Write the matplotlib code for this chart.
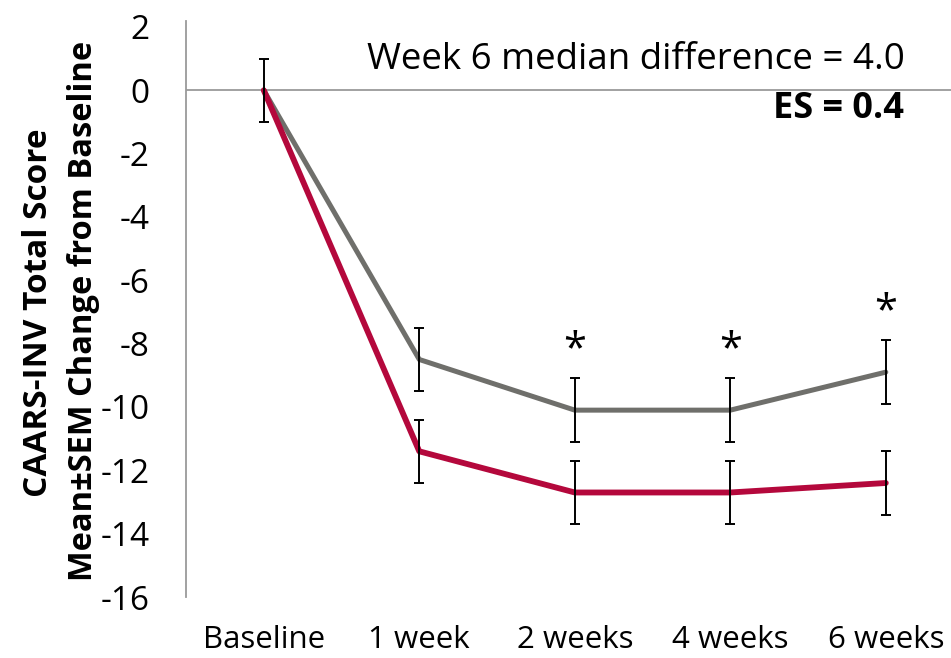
import numpy as np
from matplotlib import pyplot as plt

plt.rcParams['font.family'] = ['Open Sans', 'DejaVu Sans']

timepoints = ['Baseline', '1 week', '2 weeks', '4 weeks', '6 weeks']
placebo_mean = [0, -8.5, -10.1, -10.1, -8.9]
placebo_sem = [1.0, 1.0, 1.0, 1.0, 1.0]
active_mean = [0, -11.4, -12.7, -12.7, -12.4]
active_sem = [1.0, 1.0, 1.0, 1.0, 1.0]
signif = [False, False, True, True, True]
yticks = [2, 0, -2, -4, -6, -8, -10, -12, -14, -16]

gray = '#6f6f6b'
red = '#b4083c'

fig = plt.figure(figsize=(9.51, 6.58), dpi=100)
ax = fig.add_axes([0.1956, 0.0927, 0.8176, 0.876])

x = np.arange(len(timepoints))

# baseline zero line
ax.axhline(0, color='#9a9a9a', lw=1.3, zorder=1)

ax.plot(x, placebo_mean, color=gray, lw=3.6, zorder=2, solid_capstyle='round')
ax.plot(x, active_mean, color=red, lw=4.2, zorder=3, solid_capstyle='round')

# baseline has a single shared error bar
ax.errorbar(x, placebo_mean, yerr=placebo_sem, fmt='none', ecolor='black',
            elinewidth=1.4, capsize=3.8, capthick=1.4, zorder=4)
ax.errorbar(x[1:], active_mean[1:], yerr=active_sem[1:], fmt='none', ecolor='black',
            elinewidth=1.4, capsize=3.8, capthick=1.4, zorder=4)

for xi, m, s, sig in zip(x, placebo_mean, placebo_sem, signif):
    if sig:
        ax.text(xi, m + s + 0.9, '*', ha='center', va='center', fontsize=30)

ax.text(4.12, 0.95, 'Week 6 median difference = 4.0', ha='right', va='center', fontsize=26.5)
ax.text(4.12, -0.6, 'ES = 0.4', ha='right', va='center', fontsize=26, fontweight='bold')

ax.set_xlim(-0.5, 4.5)
ax.set_ylim(-16, 2.2)
ax.set_yticks(yticks)
ax.set_yticklabels([str(t) for t in yticks])
ax.set_xticks(x)
ax.set_xticklabels(timepoints)
ax.tick_params(axis='y', length=0, pad=26, labelsize=24)
ax.tick_params(axis='x', length=0, pad=20, labelsize=22.5)

for side in ['top', 'right', 'bottom']:
    ax.spines[side].set_visible(False)
ax.spines['left'].set_color('#9a9a9a')
ax.spines['left'].set_linewidth(1.3)

fig.text(0.041, 0.525, 'CAARS-INV Total Score', rotation=90, ha='center', va='center',
         fontsize=24, fontweight='bold')
fig.text(0.088, 0.528, 'Mean±SEM Change from Baseline', rotation=90, ha='center', va='center',
         fontsize=23.5, fontweight='bold')

fig.savefig('out.png', dpi=100)
